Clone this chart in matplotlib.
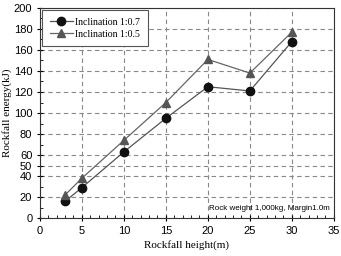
import matplotlib
matplotlib.use('Agg')
import matplotlib.pyplot as plt
from matplotlib.ticker import MultipleLocator

# Data
heights = [3, 5, 10, 15, 20, 25, 30]
energy_07 = [16, 29, 63, 95, 125, 121, 168]
energy_05 = [22, 38, 74, 110, 151, 138, 177]
y_ticks = [0, 20, 40, 50, 60, 80, 100, 120, 140, 160, 180, 200]
x_ticks = [0, 5, 10, 15, 20, 25, 30, 35]

fig = plt.figure(figsize=(3.41, 2.56), dpi=100)
ax = fig.add_axes([0.117, 0.148, 0.862, 0.821])

ax.plot(heights, energy_07, color='#555555', lw=0.9, marker='o', ms=6,
        mfc='#111111', mec='#111111', label='Inclination 1:0.7')
ax.plot(heights, energy_05, color='#666666', lw=0.9, marker='^', ms=6,
        mfc='#555555', mec='#555555', label='Inclination 1:0.5')

ax.set_xlim(0, 35)
ax.set_ylim(0, 200)
ax.set_xticks(x_ticks)
ax.set_yticks(y_ticks)
ax.xaxis.set_minor_locator(MultipleLocator(1))
ax.yaxis.set_minor_locator(MultipleLocator(10))
ax.grid(True, which='major', ls=(0, (4, 3)), color='#888888', lw=0.8)
ax.tick_params(which='major', direction='inout', length=4, labelsize=8)
ax.tick_params(which='minor', direction='in', length=2)
for lab in ax.get_xticklabels() + ax.get_yticklabels():
    lab.set_family('Liberation Sans')
for s in ax.spines.values():
    s.set_color('#333333')

ax.set_xlabel('Rockfall height(m)', family='Liberation Serif', fontsize=8)
ax.set_ylabel('Rockfall energy(kJ)', family='Liberation Serif', fontsize=8)
ax.xaxis.set_label_coords(0.5, -0.105)
ax.yaxis.set_label_coords(-0.095, 0.5)

leg = ax.legend(loc='upper left', prop={'family': 'Liberation Serif', 'size': 7},
                fancybox=False, edgecolor='#555555', framealpha=1, handlelength=2.4,
                handletextpad=0.25, borderpad=0.75, labelspacing=0.3,
                borderaxespad=0.25)
leg.get_frame().set_linewidth(0.8)

ax.text(34.5, 9.5, 'Rock weight 1,000kg, Margin1.0m', family='Liberation Sans',
        fontsize=5.8, ha='right', va='center')

fig.savefig('out.png', dpi=100)
